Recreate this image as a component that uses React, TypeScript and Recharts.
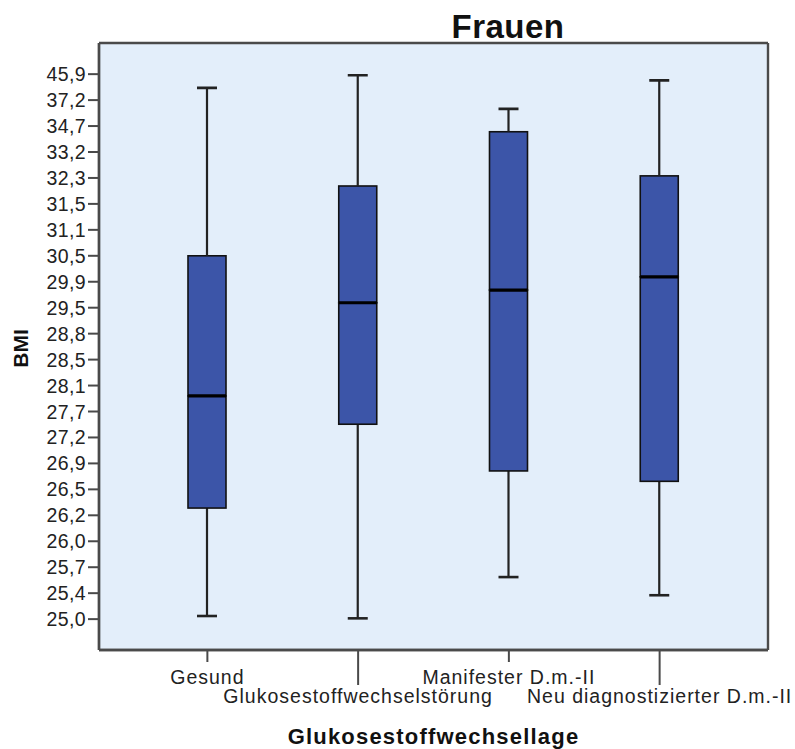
import { ComposedChart, Bar, XAxis, YAxis, CartesianGrid } from 'recharts';

const FONT = '"Liberation Sans", Arial, Helvetica, sans-serif';
const BOX_FILL = '#3c55a8';
const LINE = '#222';
const FRAME = '#4a4a4a';

const categories = [
  'Gesund',
  'Glukosestoffwechselstörung',
  'Manifester D.m.-II',
  'Neu diagnostizierter D.m.-II',
];

// y tick labels from bottom to top, evenly spaced on the axis
const yTickLabels = [
  '25,0', '25,4', '25,7', '26,0', '26,2', '26,5', '26,9', '27,2', '27,7', '28,1', '28,5',
  '28,8', '29,5', '29,9', '30,5', '31,1', '31,5', '32,3', '33,2', '34,7', '37,2', '45,9',
];

// box plot values, as positions on the BMI axis (tick steps above 25,0)
const whiskerLow = [0.12, 0.03, 1.62, 0.92];
const q1 = [4.28, 7.51, 5.71, 5.31];
const median = [8.6, 12.19, 12.68, 13.19];
const q3 = [14.0, 16.69, 18.78, 17.08];
const whiskerHigh = [20.47, 20.96, 19.66, 20.76];

const Y_MIN = -1.19;
const Y_MAX = 22.2;

const data = categories.map((name, i) => ({
  name,
  base: whiskerLow[i],
  lowerWhisker: q1[i] - whiskerLow[i],
  lowerBox: median[i] - q1[i],
  upperBox: q3[i] - median[i],
  upperWhisker: whiskerHigh[i] - q3[i],
}));

const yTicks = yTickLabels.map((_, i) => i);

const LowerWhisker = (props: any) => {
  const { x, y, width, height } = props;
  const cx = x + width / 2;
  const bottom = y + height;
  return (
    <g>
      <line x1={cx} x2={cx} y1={y} y2={bottom} stroke={LINE} strokeWidth={2.2} />
      <line x1={cx - 10} x2={cx + 10} y1={bottom} y2={bottom} stroke={LINE} strokeWidth={2.6} />
    </g>
  );
};

const UpperWhisker = (props: any) => {
  const { x, y, width, height } = props;
  const cx = x + width / 2;
  return (
    <g>
      <line x1={cx} x2={cx} y1={y} y2={y + height} stroke={LINE} strokeWidth={2.2} />
      <line x1={cx - 10} x2={cx + 10} y1={y} y2={y} stroke={LINE} strokeWidth={2.6} />
    </g>
  );
};

const LowerBox = (props: any) => {
  const { x, y, width, height } = props;
  return <rect x={x} y={y} width={width} height={height} fill={BOX_FILL} stroke="#111" strokeWidth={1.6} />;
};

const UpperBox = (props: any) => {
  const { x, y, width, height } = props;
  return (
    <g>
      <rect x={x} y={y} width={width} height={height} fill={BOX_FILL} stroke="#111" strokeWidth={1.6} />
      <line x1={x} x2={x + width} y1={y + height} y2={y + height} stroke="#000" strokeWidth={3.2} />
    </g>
  );
};

const YTick = (props: any) => {
  const { x, y, payload } = props;
  return (
    <text
      x={x}
      y={y}
      dy="0.36em"
      textAnchor="end"
      fill="#222"
      fontSize={19.5}
      fontFamily={FONT}
      letterSpacing={0.4}
    >
      {yTickLabels[payload.value]}
    </text>
  );
};

const XTick = (props: any) => {
  const { x, y, payload, index } = props;
  const long = index % 2 === 1;
  return (
    <g>
      <line x1={x} x2={x} y1={y} y2={y + (long ? 35 : 12)} stroke={FRAME} strokeWidth={2} />
      <text
        x={x}
        y={y + (long ? 53 : 34)}
        textAnchor="middle"
        fill="#222"
        fontSize={19.5}
        fontFamily={FONT}
        letterSpacing={1}
      >
        {payload.value}
      </text>
    </g>
  );
};

export default function App() {
  return (
    <div style={{ position: 'absolute', left: 0, top: 0, width: 795, height: 749, background: '#fff' }}>
      <ComposedChart
        width={795}
        height={749}
        data={data}
        margin={{ top: 43, right: 27, bottom: 39, left: 0 }}
      >
        {/* plot background and the frame around it */}
        <CartesianGrid
          fill="#e3eefa"
          stroke={FRAME}
          strokeWidth={2.4}
          horizontalCoordinatesGenerator={({ offset }: any) => [offset.top, offset.top + offset.height]}
          verticalCoordinatesGenerator={({ offset }: any) => [offset.left, offset.left + offset.width]}
        />
        <XAxis
          dataKey="name"
          type="category"
          interval={0}
          padding={{ left: 33, right: 33 }}
          height={60}
          tickSize={0}
          tickMargin={0}
          tickLine={false}
          tick={<XTick />}
          axisLine={{ stroke: FRAME, strokeWidth: 2.4 }}
          label={(p: any) => (
            <text
              x={p.viewBox.x + p.viewBox.width / 2}
              y={p.viewBox.y + 94}
              textAnchor="middle"
              fontSize={22}
              fontWeight="bold"
              fontFamily={FONT}
              letterSpacing={1.2}
              fill="#111"
            >
              Glukosestoffwechsellage
            </text>
          )}
        />
        <YAxis
          type="number"
          domain={[Y_MIN, Y_MAX]}
          ticks={yTicks}
          interval={0}
          allowDataOverflow
          width={99}
          tickSize={11}
          tickMargin={2}
          tick={<YTick />}
          tickLine={{ stroke: FRAME, strokeWidth: 2 }}
          axisLine={{ stroke: FRAME, strokeWidth: 2.4 }}
          label={(p: any) => {
            const cx = p.viewBox.x + 20;
            const cy = p.viewBox.y + p.viewBox.height / 2 + 2;
            return (
              <g>
                <text
                  x={cx}
                  y={cy}
                  transform={`rotate(-90 ${cx} ${cy})`}
                  textAnchor="middle"
                  dominantBaseline="central"
                  fontSize={21}
                  fontWeight="bold"
                  fontFamily={FONT}
                  fill="#111"
                >
                  BMI
                </text>
                <text
                  x={508}
                  y={p.viewBox.y - 5}
                  textAnchor="middle"
                  fontSize={33}
                  fontWeight="bold"
                  fontFamily={FONT}
                  letterSpacing={0.5}
                  fill="#111"
                >
                  Frauen
                </text>
              </g>
            );
          }}
        />
        <Bar dataKey="base" stackId="box" barSize={38} fill="none" isAnimationActive={false} />
        <Bar dataKey="lowerWhisker" stackId="box" barSize={38} shape={<LowerWhisker />} isAnimationActive={false} />
        <Bar dataKey="lowerBox" stackId="box" barSize={38} shape={<LowerBox />} isAnimationActive={false} />
        <Bar dataKey="upperBox" stackId="box" barSize={38} shape={<UpperBox />} isAnimationActive={false} />
        <Bar dataKey="upperWhisker" stackId="box" barSize={38} shape={<UpperWhisker />} isAnimationActive={false} />
      </ComposedChart>
    </div>
  );
}
